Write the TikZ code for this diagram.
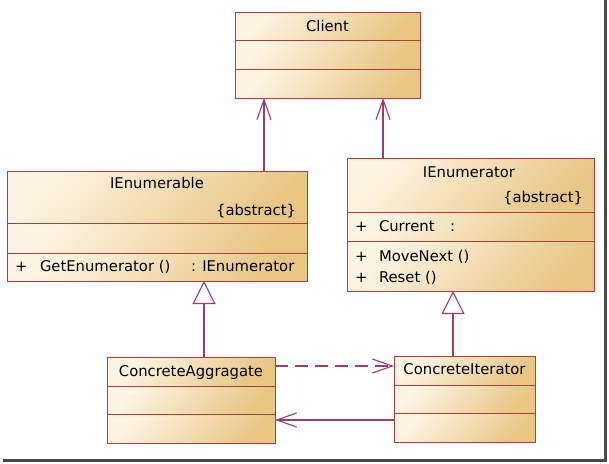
\documentclass[tikz,border=0pt]{standalone}
\usepackage{fontspec}
\setmainfont{DejaVu Sans}
\usetikzlibrary{arrows.meta,calc}
\definecolor{boxline}{HTML}{B03C3C}
\definecolor{conn}{HTML}{9C3D6E}
\definecolor{fillA}{HTML}{FDF5E4}
\definecolor{fillM}{HTML}{F3DDB0}
\definecolor{fillB}{HTML}{E8C684}
\definecolor{shadowcol}{HTML}{4A4A4A}
\newcommand\compart[4]{\shade[left color=fillA,middle color=fillM,right color=fillB,shading angle=45] (#1,#2) rectangle (#3,#4);}
\tikzset{
  umlbox/.style={draw=boxline, line width=1pt, inner sep=0pt, outer sep=0pt, anchor=north west},
  divider/.style={draw=boxline, line width=0.9pt},
  txt/.style={inner sep=0pt, outer sep=0pt, anchor=base, font=\fontsize{14.8}{17}\selectfont},
  ltxt/.style={txt, anchor=base west},
  rtxt/.style={txt, anchor=base east},
  conline/.style={draw=conn, line width=1.1pt},
  assoc/.style={conline, -{Straight Barb[length=20pt,width=14pt,line width=1.1pt]}},
  inherit/.style={conline, -{Triangle[open,length=23pt,width=23pt,fill=white,line width=1.1pt]}},
}
\begin{document}
\begin{tikzpicture}[x=1pt,y=-1pt]
\useasboundingbox (0,0) rectangle (609,463);
% screenshot shadow frame
\draw[shadowcol, line width=3pt] (3,460) -- (605.5,460) -- (605.5,0);

% ---------- Client ----------
\compart{235}{12}{420}{40}\compart{235}{40}{420}{69}\compart{235}{69}{420}{98}
\node[umlbox, minimum width=185pt, minimum height=86pt] (client) at (235,12) {};
\draw[divider] (235,40) -- (420,40) (235,69) -- (420,69);
\node[txt] (clientname) at (327.5,31) {Client};

% ---------- IEnumerable ----------
\compart{7}{171}{307}{223}\compart{7}{223}{307}{253}\compart{7}{253}{307}{281}
\node[umlbox, minimum width=300pt, minimum height=110pt] (ienumerable) at (7,171) {};
\draw[divider] (7,223) -- (307,223) (7,253) -- (307,253);
\node[txt] (ienumerablename) at (157,188.5) {IEnumerable};
\node[rtxt] (ienumerableabs) at (296,215) {\{abstract\}};
\node[ltxt] (getplus) at (15,271.5) {+};
\node[ltxt] (getenum) at (40,271.5) {GetEnumerator ()};
\node[ltxt] (getret) at (191,271.5) {: IEnumerator};

% ---------- IEnumerator ----------
\compart{347}{158}{594}{212}\compart{347}{212}{594}{241}\compart{347}{241}{594}{291}
\node[umlbox, minimum width=247pt, minimum height=133pt] (ienumerator) at (347,158) {};
\draw[divider] (347,212) -- (594,212) (347,241) -- (594,241);
\node[txt] (ienumeratorname) at (469,177) {IEnumerator};
\node[rtxt] (ienumeratorabs) at (583,202.5) {\{abstract\}};
\node[ltxt] (curplus) at (355,231.5) {+};
\node[ltxt] (current) at (379,231.5) {Current};
\node[ltxt] (curcolon) at (450,231.5) {:};
\node[ltxt] (mnplus) at (355,261) {+};
\node[ltxt] (movenext) at (379,261) {MoveNext ()};
\node[ltxt] (rsplus) at (355,282) {+};
\node[ltxt] (reset) at (379,282) {Reset ()};

% ---------- ConcreteAggragate ----------
\compart{107}{357}{275}{386}\compart{107}{386}{275}{414}\compart{107}{414}{275}{443}
\node[umlbox, minimum width=168pt, minimum height=86pt] (ca) at (107,357) {};
\draw[divider] (107,386) -- (275,386) (107,414) -- (275,414);
\node[txt] (caname) at (191,376) {ConcreteAggragate};

% ---------- ConcreteIterator ----------
\compart{394}{356}{535}{385}\compart{394}{385}{535}{413}\compart{394}{413}{535}{442}
\node[umlbox, minimum width=141pt, minimum height=86pt] (ci) at (394,356) {};
\draw[divider] (394,385) -- (535,385) (394,413) -- (535,413);
\node[txt] (ciname) at (464.5,374) {ConcreteIterator};

% ---------- connectors ----------
\draw[assoc] ($(ienumerable.north west)+(257,0)$) -- ($(client.south west)+(29,0)$);
\draw[assoc] ($(ienumerator.north west)+(36,0)$) -- ($(client.south west)+(148,0)$);
\draw[inherit] ($(ca.north west)+(97,0)$) -- ($(ienumerable.south west)+(197,0)$);
\draw[inherit] ($(ci.north west)+(59,0)$) -- ($(ienumerator.south west)+(106,0)$);
\draw[assoc, dash pattern=on 13pt off 7pt] ($(ca.north east)+(0,9)$) -- ($(ci.north west)+(0,10)$);
\draw[assoc] ($(ci.south west)+(0,-22)$) -- ($(ca.south east)+(0,-23)$);
\end{tikzpicture}
\end{document}
